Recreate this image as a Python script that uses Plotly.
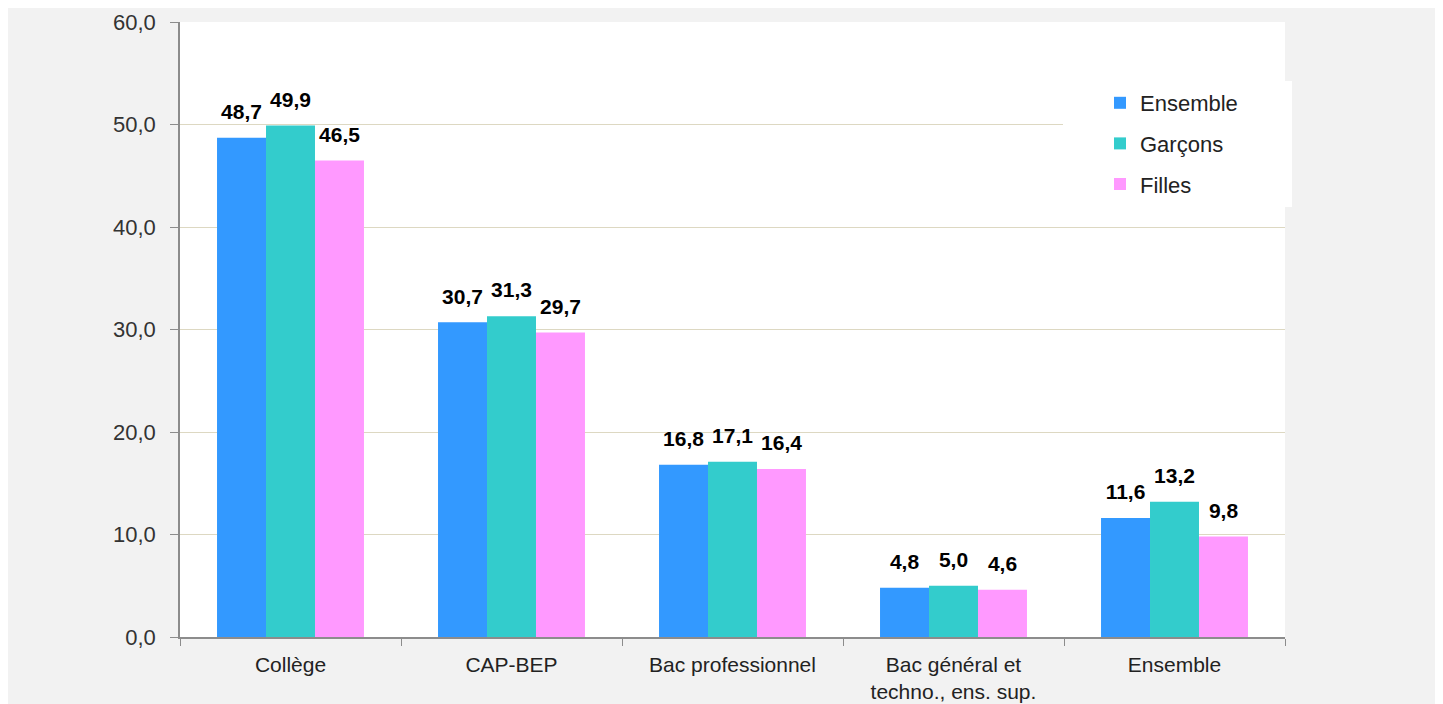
import plotly.graph_objects as go

categories = ["Collège", "CAP-BEP", "Bac professionnel", "Bac général et<br>techno., ens. sup.", "Ensemble"]
ensemble = [48.7, 30.7, 16.8, 4.8, 11.6]
garcons = [49.9, 31.3, 17.1, 5.0, 13.2]
filles = [46.5, 29.7, 16.4, 4.6, 9.8]
series_names = ["Ensemble", "Garçons", "Filles"]
colors = ["#3399ff", "#33cccc", "#ff99ff"]
y_ticks = [0, 10, 20, 30, 40, 50, 60]

def fmt(v):
    return f"{v:.1f}".replace(".", ",")

FONT = "Liberation Sans, Arial"
fig = go.Figure()
for name, vals, col in zip(series_names, [ensemble, garcons, filles], colors):
    fig.add_trace(go.Bar(
        x=categories, y=vals, name=name, legendgroup=name,
        offsetgroup=name, alignmentgroup="g",
        marker=dict(color=col, line=dict(width=0)),
    ))
for name, vals in zip(series_names, [ensemble, garcons, filles]):
    fig.add_trace(go.Scatter(
        x=categories, y=vals, mode="markers+text", showlegend=False,
        offsetgroup=name, alignmentgroup="g",
        marker=dict(size=20, opacity=0),
        text=[fmt(v) for v in vals], textposition="top center",
        textfont=dict(family=FONT, size=21, color="#000000", weight="bold"),
        cliponaxis=False, hoverinfo="skip",
    ))

L, R, T, B = 172, 152, 14, 67
W, H = 1429, 696
pw, ph = W - L - R, H - T - B
OX, OY = 8, 8  # page offset of the figure

def px_x(p):
    return (p - OX - L) / pw

def px_y(p):
    return 1 - (p - OY - T) / ph

fig.update_layout(
    width=W, height=H,
    margin=dict(l=L, r=R, t=T, b=B, pad=0, autoexpand=False),
    paper_bgcolor="#f2f2f2", plot_bgcolor="#ffffff",
    barmode="group", bargap=0.335, bargroupgap=0,
    scattermode="group", scattergap=0.335,
    separators=", ",
    font=dict(family=FONT, size=21, color="#222222"),
    showlegend=True,
    legend=dict(
        x=px_x(1100), y=px_y(82),
        xanchor="left", yanchor="top",
        bgcolor="rgba(0,0,0,0)", borderwidth=0,
        font=dict(size=22, color="#222222"),
        traceorder="grouped", tracegroupgap=9,
        itemwidth=30,
    ),
    shapes=[
        dict(type="rect", xref="paper", yref="paper", layer="above",
             x0=px_x(1063), x1=px_x(1292), y0=px_y(207), y1=px_y(81),
             fillcolor="#ffffff", line=dict(width=0)),
    ],
)
fig.update_xaxes(
    automargin=False,
    showline=True, linecolor="#8c8c8c", linewidth=1.5,
    ticks="outside", tickson="boundaries", ticklen=7, tickcolor="#8c8c8c",
    tickfont=dict(size=21, color="#222222"), ticklabelstandoff=8,
    showgrid=False,
)
fig.update_yaxes(
    automargin=False,
    range=[0, 60], tickvals=y_ticks, tickformat=".1f",
    showline=True, linecolor="#8c8c8c", linewidth=1.5,
    ticks="outside", ticklen=8, tickcolor="#8c8c8c",
    tickfont=dict(size=22, color="#333333"), ticklabelstandoff=10,
    showgrid=True, gridcolor="#ddd8c2", gridwidth=1,
    zeroline=False,
)
fig.write_html("out.html")
